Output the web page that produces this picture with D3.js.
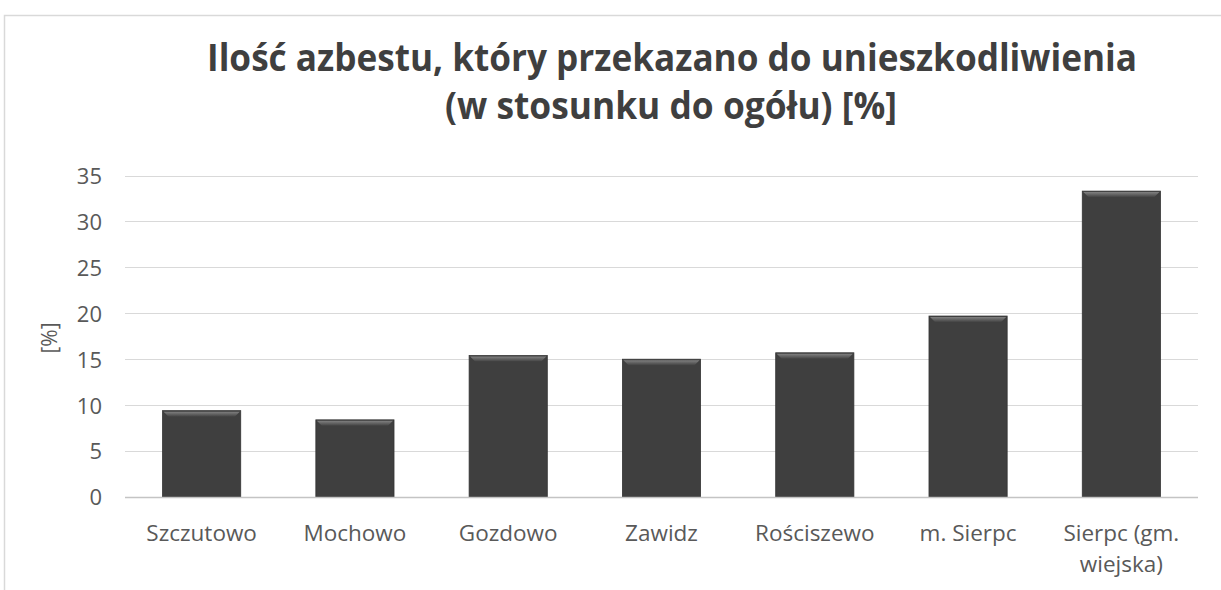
<!DOCTYPE html>
<html>
<head>
<meta charset="utf-8">
<script src="https://cdn.jsdelivr.net/npm/d3@7"></script>
<style>
  html, body { margin: 0; padding: 0; background: #fff; }
  svg { display: block; }
</style>
</head>
<body>
<svg id="chart" width="1221" height="590"></svg>
<script>
// Gminy (municipalities) and share of asbestos handed over for disposal [%]
const categories = ["Szczutowo", "Mochowo", "Gozdowo", "Zawidz", "Rościszewo", "m. Sierpc", "Sierpc (gm. wiejska)"];
const values = [9.4, 8.4, 15.4, 15.0, 15.7, 19.7, 33.3];
const yTicks = [0, 5, 10, 15, 20, 25, 30, 35];
const titleLines = ["Ilość azbestu, który przekazano do unieszkodliwienia", "(w stosunku do ogółu) [%]"];
const yAxisTitle = "[%]";

const svg = d3.select("#chart");
const W = 1221, H = 590;
const plot = { left: 125, right: 1198, top: 175.5, bottom: 497 };
const font = "'Open Sans', 'Noto Sans', sans-serif";

// chart frame
svg.append("rect")
  .attr("x", 4.5).attr("y", 15.5)
  .attr("width", W + 10).attr("height", H + 10)
  .attr("fill", "#fff").attr("stroke", "#d9d9d9").attr("stroke-width", 1.5);

const x = d3.scaleBand().domain(categories).range([plot.left, plot.right]).paddingInner(0.49).paddingOuter(0.245);
const y = d3.scaleLinear().domain([0, 35]).range([plot.bottom, plot.top]);

// gridlines
svg.append("g")
  .selectAll("line").data(yTicks.filter(d => d > 0)).join("line")
  .attr("x1", plot.left).attr("x2", plot.right)
  .attr("y1", d => Math.round(y(d)) + 0.5).attr("y2", d => Math.round(y(d)) + 0.5)
  .attr("stroke", "#d9d9d9").attr("stroke-width", 1.2);

// bar bevel gradient
const defs = svg.append("defs");
const g = defs.append("linearGradient").attr("id", "bevel").attr("x1", 0).attr("y1", 0).attr("x2", 0).attr("y2", 1);
g.append("stop").attr("offset", "0%").attr("stop-color", "#8c8c8c");
g.append("stop").attr("offset", "100%").attr("stop-color", "#444");

const bars = svg.append("g").selectAll("g").data(values).join("g");
bars.append("rect")
  .attr("x", (d, i) => x(categories[i]))
  .attr("y", d => y(d))
  .attr("width", x.bandwidth())
  .attr("height", d => y(0) - y(d))
  .attr("fill", "#3f3f3f")
  .attr("stroke", "#353535").attr("stroke-width", 0.8);
bars.append("path")
  .attr("d", (d, i) => {
    const x0 = x(categories[i]), w = x.bandwidth(), t = y(d), b = 6;
    return `M${x0 + 1},${t + 1}L${x0 + w - 1},${t + 1}L${x0 + w - b},${t + b}L${x0 + b},${t + b}Z`;
  })
  .attr("fill", "url(#bevel)").attr("opacity", 0.85);

// baseline
svg.append("line")
  .attr("x1", plot.left).attr("x2", plot.right)
  .attr("y1", Math.round(y(0)) + 0.5).attr("y2", Math.round(y(0)) + 0.5)
  .attr("stroke", "#c4c4c4").attr("stroke-width", 1.5);

// y axis labels
const yAxis = d3.axisLeft(y).tickValues(yTicks).tickSize(0).tickPadding(0);
const ya = svg.append("g").attr("transform", `translate(${plot.left - 23},0)`).call(yAxis);
ya.select(".domain").remove();
ya.selectAll("text").attr("font-family", font).attr("font-size", 22).attr("fill", "#595959").attr("dy", "0.36em");

// x axis labels
const xAxis = d3.axisBottom(x).tickSize(0).tickFormat("");
const xa = svg.append("g").attr("transform", `translate(0,${plot.bottom})`).call(xAxis);
xa.select(".domain").remove();
const wrap = { "Sierpc (gm. wiejska)": ["Sierpc (gm.", "wiejska)"] };
categories.forEach(c => {
  const lines = wrap[c] || [c];
  const cx = x(c) + x.bandwidth() / 2;
  const t = svg.append("text")
    .attr("x", cx)
    .attr("y", 541)
    .attr("text-anchor", "middle")
    .attr("font-family", font).attr("font-size", 22.5).attr("fill", "#595959");
  lines.forEach((l, k) => t.append("tspan").attr("x", cx).attr("dy", k ? 31 : 0).text(l));
});

// y axis title
svg.append("text")
  .attr("transform", "translate(57,338) rotate(-90)")
  .attr("text-anchor", "middle")
  .attr("font-family", font).attr("font-size", 21).attr("fill", "#595959")
  .text(yAxisTitle);

// title, condensed to the width of the chart heading
const title = svg.append("text")
  .attr("text-anchor", "middle")
  .attr("font-family", font).attr("font-weight", "bold").attr("font-size", 37).attr("fill", "#3f3f3f");
title.append("tspan").attr("x", 672).attr("y", 71)
  .attr("textLength", 930).attr("lengthAdjust", "spacingAndGlyphs").text(titleLines[0]);
title.append("tspan").attr("x", 671).attr("y", 119)
  .attr("textLength", 452).attr("lengthAdjust", "spacingAndGlyphs").text(titleLines[1]);
</script>
</body>
</html>
